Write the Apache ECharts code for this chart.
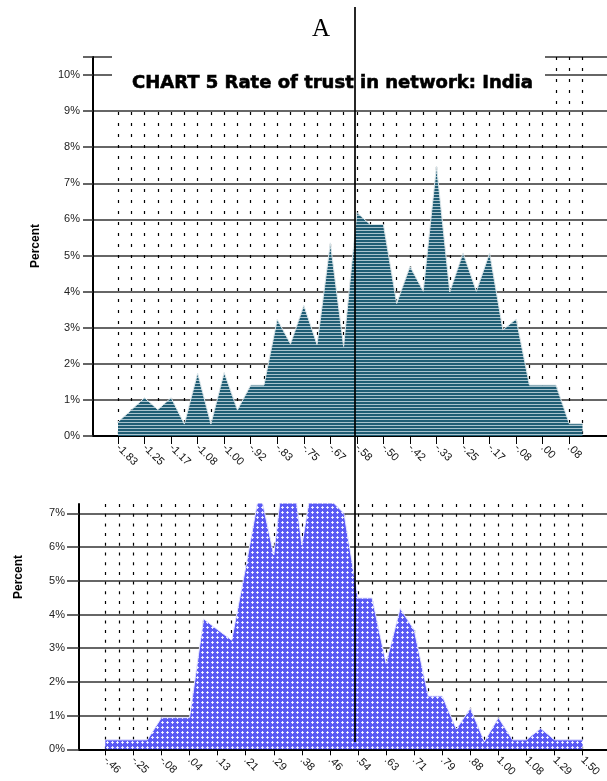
<!DOCTYPE html>
<html>
<head>
<meta charset="utf-8">
<script src="https://cdn.jsdelivr.net/npm/echarts@6/dist/echarts.min.js"></script>
<style>
html, body { margin: 0; padding: 0; background: #fff; }
#main { width: 607px; height: 781px; }
</style>
</head>
<body>
<div id="main"></div>
<script>
// top panel: rate of trust, India
var topCats = ['-1.83', '-1.29', '-1.25', '-1.21', '-1.17', '-1.13', '-1.08', '-1.04', '-1.00', '-.96',
    '-.92', '-.88', '-.83', '-.79', '-.75', '-.71', '-.67', '-.63', '-.58', '-.54',
    '-.50', '-.46', '-.42', '-.38', '-.33', '-.29', '-.25', '-.21', '-.17', '-.13',
    '-.08', '-.04', '.00', '.04', '.08', '.13'];
var topValues = [0.39, 0.72, 1.06, 0.73, 1.06, 0.33, 1.74, 0.33, 1.76, 0.72,
    1.41, 1.41, 3.23, 2.55, 3.62, 2.53, 5.35, 2.48, 6.19, 5.86,
    5.86, 3.67, 4.70, 4.01, 7.48, 3.99, 5.07, 4.01, 5.07, 2.94,
    3.24, 1.41, 1.41, 1.41, 0.34, 0.34];

// bottom panel
var bottomCats = ['-.46', '-.33', '-.25', '-.17', '-.08', '-.02', '.04', '.08', '.13', '.17',
    '.21', '.25', '.29', '.33', '.38', '.42', '.46', '.50', '.54', '.58',
    '.63', '.67', '.71', '.75', '.79', '.83', '.88', '.96', '1.00', '1.04',
    '1.08', '1.17', '1.29', '1.38', '1.50'];
var bottomValues = [0.28, 0.28, 0.28, 0.28, 0.94, 0.94, 0.94, 3.87, 3.55, 3.24,
    5.4, 7.7, 5.77, 9.4, 6.06, 8.6, 7.42, 7.0, 4.49, 4.49,
    2.55, 4.18, 3.54, 1.58, 1.58, 0.6, 1.22, 0.23, 0.94, 0.28,
    0.28, 0.62, 0.28, 0.28, 0.28];

var bottomTicks = [0, 1, 2, 3, 4, 5, 6, 7];

// fill patterns
function stripePattern() {
    var c = document.createElement('canvas');
    c.width = 4; c.height = 3;
    var g = c.getContext('2d');
    g.fillStyle = '#1f5d74';
    g.fillRect(0, 0, 4, 3);
    g.fillStyle = '#a9c3cd';
    g.fillRect(0, 2, 4, 1);
    return c;
}
function crossPattern() {
    var c = document.createElement('canvas');
    c.width = 5; c.height = 5;
    var g = c.getContext('2d');
    g.fillStyle = '#5a5af4';
    g.fillRect(0, 0, 5, 5);
    g.fillStyle = 'rgba(255,255,255,0.85)';
    g.fillRect(2, 1, 1, 3);
    g.fillRect(1, 2, 3, 1);
    return c;
}

function pct(v) {
    return v % 1 === 0 ? v + '%' : '';
}

var gridColor = '#333';
var labelFont = 'Liberation Sans';

var myChart = echarts.init(document.getElementById('main'));
var option = {
    animation: false,
    backgroundColor: '#fff',
    title: {
        text: 'CHART 5 Rate of trust in network: India',
        left: 132,
        top: 74,
        padding: 0,
        textStyle: {
            fontFamily: 'DejaVu Sans',
            fontWeight: 'bold',
            fontSize: 18,
            color: '#000',
            textBorderColor: '#000',
            textBorderWidth: 0.6
        }
    },
    grid: [
        { left: 93, right: 0, top: 57, height: 379, outerBoundsMode: 'none' },
        { left: 118, right: 24.5, top: 57, height: 379, outerBoundsMode: 'none' },
        { left: 79, right: 0, top: 504, height: 245.3, outerBoundsMode: 'none' },
        { left: 105.3, right: 24.3, top: 504, height: 245.3, outerBoundsMode: 'none' }
    ],
    xAxis: [
        {
            gridIndex: 0, type: 'value', min: 0, max: 1,
            axisLine: { show: true, onZero: false, lineStyle: { color: '#000', width: 2 } },
            axisTick: { show: false }, axisLabel: { show: false }, splitLine: { show: false }
        },
        {
            gridIndex: 1, type: 'category', data: topCats, boundaryGap: false,
            axisLine: { show: false },
            axisTick: { show: true, interval: 1, length: 8, lineStyle: { color: '#000' } },
            axisLabel: { interval: 1, rotate: -45, margin: 10, fontSize: 11, color: '#111', fontFamily: labelFont },
            splitLine: { show: true, interval: 0, lineStyle: { type: [3, 8], color: '#000', width: 1.2 } }
        },
        {
            gridIndex: 2, type: 'value', min: 0, max: 1,
            axisLine: { show: true, onZero: false, lineStyle: { color: '#000', width: 2 } },
            axisTick: { show: false }, axisLabel: { show: false }, splitLine: { show: false }
        },
        {
            gridIndex: 3, type: 'category', data: bottomCats, boundaryGap: false,
            axisLine: { show: false },
            axisTick: { show: true, interval: 1, length: 6, lineStyle: { color: '#000' } },
            axisLabel: { interval: 1, rotate: -45, margin: 9, fontSize: 11, color: '#111', fontFamily: labelFont },
            splitLine: { show: true, interval: 0, lineStyle: { type: [3, 6.7], color: '#000', width: 1.2 } }
        }
    ],
    yAxis: [
        {
            gridIndex: 0, type: 'value', min: 0, max: 10.5, interval: 1,
            axisLine: { show: true, lineStyle: { color: '#000', width: 2 } },
            axisTick: { show: true, length: 10, lineStyle: { color: '#333', width: 1.5 } },
            axisLabel: { formatter: pct, fontSize: 11, color: '#222', margin: 13, fontFamily: labelFont },
            splitLine: { show: true, lineStyle: { color: gridColor, width: 1.5 } }
        },
        { gridIndex: 1, type: 'value', min: 0, max: 10.5, show: false },
        {
            gridIndex: 2, type: 'value', min: 0, max: 7.28, interval: 1,
            axisLine: { show: true, lineStyle: { color: '#000', width: 2 } },
            axisTick: { show: true, length: 12, customValues: bottomTicks, lineStyle: { color: '#333', width: 1.5 } },
            axisLabel: { formatter: pct, fontSize: 11, color: '#222', margin: 14, fontFamily: labelFont },
            splitLine: {
                show: true,
                lineStyle: {
                    color: [gridColor, gridColor, gridColor, gridColor, gridColor, gridColor, gridColor, gridColor, 'rgba(0,0,0,0)'],
                    width: 1.5
                }
            }
        },
        { gridIndex: 3, type: 'value', min: 0, max: 7.28, show: false }
    ],
    series: [
        {
            type: 'line', xAxisIndex: 1, yAxisIndex: 1, data: topValues,
            symbol: 'none',
            lineStyle: { color: '#dbe6ea', width: 1 },
            areaStyle: { color: { image: stripePattern(), repeat: 'repeat' }, opacity: 1 }
        },
        {
            type: 'line', xAxisIndex: 3, yAxisIndex: 3, data: bottomValues,
            symbol: 'none',
            lineStyle: { color: '#e4e4ff', width: 1 },
            areaStyle: { color: { image: crossPattern(), repeat: 'repeat' }, opacity: 1 }
        }
    ],
    graphic: [
        // white box behind the title
        { type: 'rect', z: 5, shape: { x: 112, y: 47, width: 433, height: 59 }, style: { fill: '#fff' } },
        {
            type: 'text', z: 10, x: 321, y: 29,
            style: { text: 'A', font: '25px "Liberation Serif"', fill: '#000', align: 'center', verticalAlign: 'middle' }
        },
        { type: 'line', z: 100, shape: { x1: 355, y1: 7, x2: 355, y2: 742 }, style: { stroke: '#000', lineWidth: 1.7 } },
        {
            type: 'text', z: 10, x: 36, y: 246, rotation: Math.PI / 2,
            style: { text: 'Percent', font: 'bold 12px "Liberation Sans"', fill: '#000', align: 'center', verticalAlign: 'middle' }
        },
        {
            type: 'text', z: 10, x: 19, y: 577, rotation: Math.PI / 2,
            style: { text: 'Percent', font: 'bold 12px "Liberation Sans"', fill: '#000', align: 'center', verticalAlign: 'middle' }
        }
    ]
};
myChart.setOption(option);
</script>
</body>
</html>
